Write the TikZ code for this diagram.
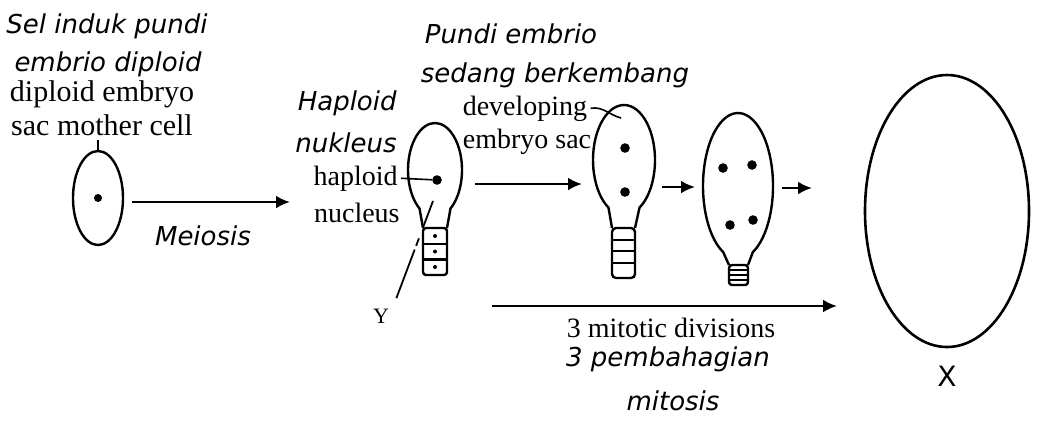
\documentclass[tikz,border=0pt]{standalone}
\usepackage{fontspec}
\setmainfont{Liberation Serif}
\newfontfamily\malay{DejaVu Sans}
\usetikzlibrary{arrows.meta,shapes.geometric,calc}

\begin{document}
\begin{tikzpicture}[x=0.5pt, y=0.5pt,
  malay/.style={font=\malay\itshape\fontsize{13}{15}\selectfont, anchor=base, inner sep=0pt},
  eng/.style={font=\fontsize{14}{16}\selectfont, anchor=base, inner sep=0pt},
  sac/.style={ellipse, inner sep=0pt, outer sep=0pt},
  wall/.style={line width=1.2pt},
  flow/.style={line width=1.3pt, -{Latex[length=7pt, width=6.5pt]}},
  nuc/.style={circle, fill, inner sep=0pt, minimum size=#1},
  nuc/.default=4.8pt]
  \useasboundingbox (0,0) rectangle (1037,-420);

  % mother cell
  \node[malay] (sel) at (107,-33) {Sel induk pundi};
  \node[malay] (embrio) at (108,-71) {embrio diploid};
  \node[eng, font=\fontsize{15}{17}\selectfont] (dipl) at (102,-101) {diploid embryo};
  \node[eng, font=\fontsize{15}{17}\selectfont] (smc) at (102,-135) {sac mother cell};
  \node[sac, draw, wall, minimum width=25pt, minimum height=47pt] (msc) at (98,-198) {};
  \node[nuc=4pt] (mnuc) at (msc) {};
  \draw[wall, line width=0.8pt] (msc.north) -- ++(0,11);
  \node[malay] (meiosis) at (203,-245) {Meiosis};

  % haploid cell
  \node[malay, anchor=base east] (hapbm) at (397,-110) {Haploid};
  \node[malay, anchor=base east] (nukbm) at (397,-152) {nukleus};
  \node[eng, anchor=base east] (hapl) at (398,-185) {haploid};
  \node[eng, anchor=base east] (nucl) at (400,-222) {nucleus};

  \node[sac, minimum width=27pt, minimum height=47pt] (hap) at (435,-170) {};
  \draw[wall] (423,-228) -- ($(hap)+(235:27 and 47)$)
    arc[start angle=235, end angle=-55, x radius=27, y radius=47] -- (447,-228);
  \draw[wall, rounded corners=1.5pt] (423,-228) rectangle (447,-275);
  \draw[wall] (423,-243.7) -- (447,-243.7) (423,-259.3) -- (447,-259.3);
  \foreach \y in {-236,-251.5,-267}
    \fill (435,\y) circle (2);
  \node[nuc] (hnuc) at (437,-180) {};
  \draw[line width=0.8pt] ($(hapl.east)+(3,0)$) -- (hnuc);

  \node[eng, font=\fontsize{11}{13}\selectfont] (ylab) at (381,-323) {Y};
  \coordinate (ytip) at (433,-201);
  \draw[line width=0.9pt, dash pattern=on 26pt off 2pt on 4pt off 6pt on 20pt]
    ($(ylab.north east)+(7,10)$) -- (ytip);

  % two nuclei
  \node[malay] (pundi) at (511,-43) {Pundi embrio};
  \node[malay] (sedang) at (555,-82) {sedang berkembang};
  \node[eng] (devel) at (525,-115) {developing};
  \node[eng] (esac) at (527,-148) {embryo sac};

  \node[sac, minimum width=31pt, minimum height=55pt] (two) at (624,-160) {};
  \draw[wall] (612,-228) -- ($(two)+(240:31 and 55)$)
    arc[start angle=240, end angle=-60, x radius=31, y radius=55] -- (635,-228);
  \draw[wall, rounded corners=2pt] (612,-228) rectangle (635,-278);
  \draw[wall] (612,-240) -- (635,-240) (612,-251) -- (635,-251) (612,-263) -- (635,-263);
  \node[nuc] (tn1) at (625,-148) {};
  \node[nuc] (tn2) at (625,-192) {};
  \coordinate (devtip) at (621,-118);
  \draw[line width=0.8pt] ($(devel.east)+(3,0)$) to[out=10, in=165] (devtip);

  % four nuclei
  \node[sac, minimum width=35pt, minimum height=73pt] (four) at (738,-186) {};
  \draw[wall] (729,-265) -- ($(four)+(245:35 and 73)$)
    arc[start angle=245, end angle=-65, x radius=35, y radius=73] -- (748,-265);
  \draw[wall, rounded corners=1.5pt] (729,-265) rectangle (748,-285);
  \draw[line width=1.4pt] (729,-270) -- (748,-270) (729,-275) -- (748,-275) (729,-280) -- (748,-280);
  \node[nuc] (fn1) at (723,-168) {};
  \node[nuc] (fn2) at (752,-165) {};
  \node[nuc] (fn3) at (730,-225) {};
  \node[nuc] (fn4) at (753,-220) {};

  % mature sac
  \node[sac, draw, line width=1.3pt, minimum width=82pt, minimum height=136pt] (mature) at (947,-211) {};
  \node[font=\malay\fontsize{14}{16}\selectfont, anchor=base, inner sep=0pt] (xlab) at (947,-386) {X};

  % arrows between the stages
  \draw[flow] ($(msc.east)+(9,-4)$) -- ($(hap.west)+(-118,-32)$);
  \draw[flow] ($(hap.east)+(13,-14)$) -- ($(two.west)+(-11,-24)$);
  \draw[flow] ($(two.east)+(7,-27)$) -- ($(four.west)+(-8,-1)$);
  \draw[flow] ($(four.east)+(9,-2)$) -- ($(mature.west)+(-53,23)$);

  % mitotic divisions
  \coordinate (mit0) at (492,-306);
  \coordinate (mit1) at (837,-306);
  \draw[flow] (mit0) -- (mit1);
  \node[eng] (mito) at (671,-337) {3 mitotic divisions};
  \node[malay] (pemb) at (668,-366) {3 pembahagian};
  \node[malay] (mitos) at (673,-410) {mitosis};
\end{tikzpicture}
\end{document}
